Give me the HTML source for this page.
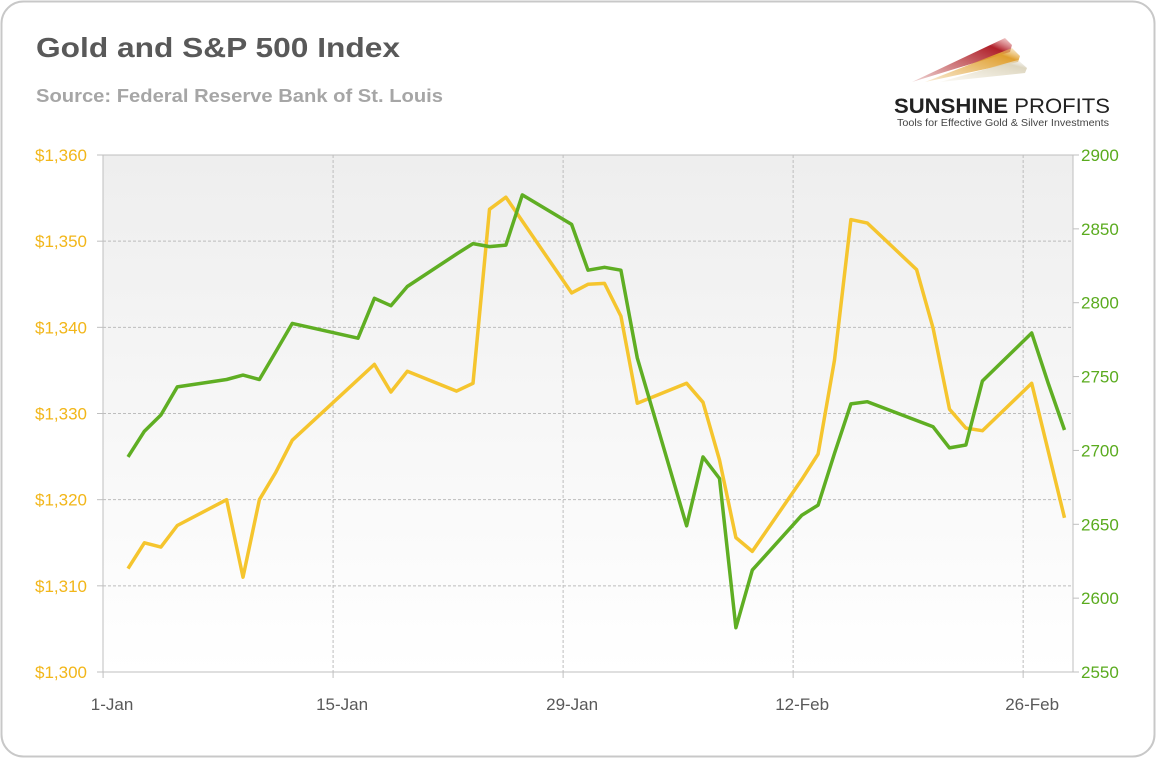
<!DOCTYPE html>
<html><head><meta charset="utf-8"><style>
html,body{margin:0;padding:0;background:#fff;}
body{width:1156px;height:758px;overflow:hidden;font-family:"Liberation Sans",sans-serif;}
</style></head><body>
<svg id="chart" width="1156" height="758" xmlns="http://www.w3.org/2000/svg" font-family="Liberation Sans, sans-serif">
<defs>
<linearGradient id="bg" x1="0" y1="0" x2="0" y2="1"><stop offset="0" stop-color="#eeeeee"/><stop offset="1" stop-color="#ffffff"/></linearGradient>
<linearGradient id="r1" x1="0" y1="1" x2="1" y2="0"><stop offset="0" stop-color="#b02a2a" stop-opacity="0.2"/><stop offset="0.8" stop-color="#b0202a"/><stop offset="1" stop-color="#e08080" stop-opacity="0.3"/></linearGradient>
<linearGradient id="r2" x1="0" y1="1" x2="1" y2="0"><stop offset="0" stop-color="#e0a030" stop-opacity="0.2"/><stop offset="0.8" stop-color="#e0a030"/><stop offset="1" stop-color="#f0d090" stop-opacity="0.3"/></linearGradient>
<linearGradient id="r3" x1="0" y1="1" x2="1" y2="0"><stop offset="0" stop-color="#e8e0c8" stop-opacity="0.2"/><stop offset="0.8" stop-color="#ddd6c0"/><stop offset="1" stop-color="#eee" stop-opacity="0.3"/></linearGradient>
</defs>
<rect x="1.5" y="1.5" width="1153" height="755" rx="22" fill="#fff" stroke="#c8c8c8" stroke-width="2"/>
<text x="36" y="57" font-size="28" font-weight="bold" fill="#595959" textLength="364" lengthAdjust="spacingAndGlyphs">Gold and S&amp;P 500 Index</text>
<text x="36" y="102" font-size="18" font-weight="bold" fill="#a6a6a6" textLength="407" lengthAdjust="spacingAndGlyphs">Source: Federal Reserve Bank of St. Louis</text>
<g>
<polygon points="912,82 1005,38 1012,45 1010,52" fill="url(#r1)"/>
<polygon points="925,82 1012,48 1020,56 1018,62" fill="url(#r2)"/>
<polygon points="940,82 1018,60 1027,68 1025,73" fill="url(#r3)"/>
<text x="894" y="113" font-size="21" font-weight="bold" fill="#222" textLength="216" lengthAdjust="spacingAndGlyphs">SUNSHINE <tspan font-weight="normal">PROFITS</tspan></text>
<text x="897" y="126" font-size="10" fill="#444" textLength="212" lengthAdjust="spacingAndGlyphs">Tools for Effective Gold &amp; Silver Investments</text>
</g>
<rect x="103" y="155" width="970" height="517" fill="url(#bg)"/>
<g id="grid"></g>
<g id="axes"></g>
<g id="series"></g>
</svg>
<script>
const goldDays = [2,3,4,5,8,9,10,11,12,17,18,19,22,23,24,25,29,30,31,32,33,36,37,38,39,40,43,44,45,46,47,50,51,52,53,54,57,59];
const goldValues = [1312,1315,1314.5,1317,1320,1311,1320,1323.2,1326.9,1335.7,1332.5,1334.9,1332.6,1333.5,1353.7,1355.1,1344,1345,1345.1,1341.3,1331.2,1333.5,1331.3,1324.6,1315.6,1314,1322.3,1325.3,1336.2,1352.5,1352.1,1346.7,1339.9,1330.5,1328.3,1328,1333.5,1317.9];
const spDays = [2,3,4,5,8,9,10,11,12,16,17,18,19,22,23,24,25,26,29,30,31,32,33,36,37,38,39,40,43,44,45,46,47,51,52,53,54,57,58,59];
const spValues = [2695.6,2713,2724,2743,2748,2751,2748,2767,2786,2776,2803,2798,2811,2833,2840,2838,2839,2873,2853,2822,2824,2822,2762.6,2649,2695.6,2681,2580,2619,2656,2663,2698,2731.5,2733,2716,2701.7,2703.7,2747,2779.5,2745.7,2713.8];
const leftTicks = [1300,1310,1320,1330,1340,1350,1360];
const leftTickLabels = ["$1,300","$1,310","$1,320","$1,330","$1,340","$1,350","$1,360"];
const rightTicks = [2550,2600,2650,2700,2750,2800,2850,2900];
const xTickDays = [1,15,29,43,57];
const xTickLabels = ["1-Jan","15-Jan","29-Jan","12-Feb","26-Feb"];

const NS="http://www.w3.org/2000/svg";
const X0=103,X1=1073,Y0=672,Y1=155;
const dayW=16.43;
function xData(d){return 128+(d-2)*dayW;}
function xTick(d){return xData(d)-8.5;}
function yL(v){return Y0-(v-1300)/(60)*(Y0-Y1);}
function yR(v){return Y0-(v-2550)/(350)*(Y0-Y1);}
function mk(tag,attrs,parent){const e=document.createElementNS(NS,tag);for(const k in attrs)e.setAttribute(k,attrs[k]);parent.appendChild(e);return e;}
const grid=document.getElementById('grid'),axes=document.getElementById('axes'),series=document.getElementById('series');

leftTicks.forEach((v,i)=>{
  const y=yL(v);
  if(i>0&&i<leftTicks.length-1){
    const g=mk('line',{x1:X0,x2:X1,y1:y,y2:y,stroke:'#bdbdbd','stroke-dasharray':'3,2','stroke-width':1},grid);
    
    
  }
  mk('line',{x1:X0-6,x2:X0,y1:y,y2:y,stroke:'#bfbfbf'},axes);
  const t=mk('text',{x:87,y:y+6,'text-anchor':'end','font-size':17,fill:'#f2b619'},axes);
  t.textContent=leftTickLabels[i];
  
  
});
mk('line',{x1:X0-6,x2:X1,y1:Y1,y2:Y1,stroke:'#bfbfbf'},axes);
rightTicks.forEach(v=>{
  const y=yR(v);
  mk('line',{x1:X1,x2:X1+6,y1:y,y2:y,stroke:'#bfbfbf'},axes);
  const t=mk('text',{x:1081,y:y+6,'font-size':17,fill:'#5aab1e'},axes);
  t.textContent=String(v);
  
  
});
xTickDays.forEach((d,i)=>{
  const x=xTick(d);
  if(i>0){
    const g=mk('line',{x1:x,x2:x,y1:Y1,y2:Y0,stroke:'#bdbdbd','stroke-dasharray':'3,2'},grid);
    
    
  }
  mk('line',{x1:x,x2:x,y1:Y0,y2:Y0+6,stroke:'#bfbfbf'},axes);
  const t=mk('text',{x:x+9,y:Y0+38,'text-anchor':'middle','font-size':17,fill:'#595959'},axes);
  t.textContent=xTickLabels[i];
  
  
});
mk('line',{x1:X0,x2:X0,y1:Y1,y2:Y0,stroke:'#bfbfbf'},axes);
mk('line',{x1:X1,x2:X1,y1:Y1,y2:Y0,stroke:'#bfbfbf'},axes);
mk('line',{x1:X0,x2:X1,y1:Y0,y2:Y0,stroke:'#bfbfbf'},axes);

const gp=mk('polyline',{points:goldDays.map((d,i)=>xData(d).toFixed(1)+','+yL(goldValues[i]).toFixed(1)).join(' '),fill:'none',stroke:'#f5c52e','stroke-width':3.5,'stroke-linejoin':'round'},series);


const sp=mk('polyline',{points:spDays.map((d,i)=>xData(d).toFixed(1)+','+yR(spValues[i]).toFixed(1)).join(' '),fill:'none',stroke:'#5fae23','stroke-width':3.5,'stroke-linejoin':'round'},series);


</script>
</body></html>
